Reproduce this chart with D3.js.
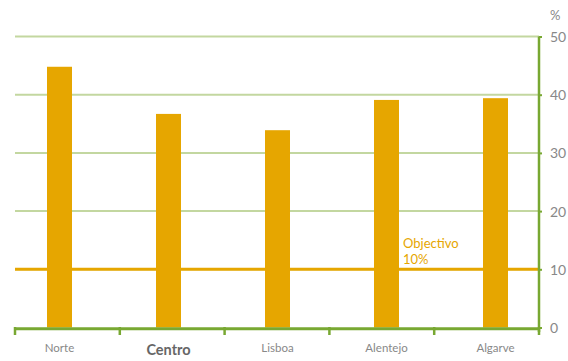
<!DOCTYPE html>
<html><head><meta charset="utf-8">
<script src="https://cdn.jsdelivr.net/npm/d3@7"></script>
<style>body{margin:0;background:#fff}svg{display:block}</style>
</head><body>
<svg id="c" width="568" height="361"></svg>
<script>
const categories = ["Norte", "Centro", "Lisboa", "Alentejo", "Algarve"];
const values = [44.8, 36.7, 33.9, 39.1, 39.4];
const yTicks = [0, 10, 20, 30, 40, 50];
const objective = 10;
const objectiveLabel = ["Objectivo", "10%"];
const unitLabel = "%";

const svg = d3.select("#c");
const mLeft = 15, mRight = 539, mTop = 36.5, mBottom = 327.5;
// scale for axis tick dividers
const xAxisScale = d3.scaleBand().domain(categories).range([mLeft, mRight]).padding(0);
// scale for bars and labels (slightly wider spacing, as in reference)
const x = d3.scaleBand().domain(categories).range([5, 550]).padding(0);
const y = d3.scaleLinear().domain([0, 50]).range([mBottom, mTop]);
const barW = 25;
const barCenter = d => x(d) + x.bandwidth() / 2;

// gridlines
svg.append("g").selectAll("line").data(yTicks.filter(t => t > 0)).join("line")
  .attr("x1", mLeft).attr("x2", mRight)
  .attr("y1", d => y(d)).attr("y2", d => y(d))
  .attr("stroke", "#c3d7a0").attr("stroke-width", 2);

// bars
svg.append("g").selectAll("rect").data(categories).join("rect")
  .attr("x", d => barCenter(d) - barW / 2)
  .attr("width", barW)
  .attr("y", (d, i) => y(values[i]))
  .attr("height", (d, i) => y(0) - y(values[i]))
  .attr("fill", "#e6a600");

// objective line
svg.append("line").attr("x1", mLeft).attr("x2", mRight)
  .attr("y1", y(objective)).attr("y2", y(objective))
  .attr("stroke", "#e6a600").attr("stroke-width", 3);
svg.append("text").attr("x", 403).attr("y", y(objective) - 21)
  .attr("fill", "#e6a600").attr("font-family", "Lato, sans-serif").attr("font-size", 13)
  .selectAll("tspan").data(objectiveLabel).join("tspan")
  .attr("x", 403).attr("dy", (d, i) => i ? 16 : 0).text(d => d);

// right axis
const yAxis = d3.axisRight(y).tickValues(yTicks).tickSize(3).tickPadding(8);
const ga = svg.append("g").attr("transform", `translate(${mRight},0)`).call(yAxis);
ga.select(".domain").remove();
ga.selectAll(".tick line").attr("stroke", "#78a832").attr("stroke-width", 2);
ga.selectAll(".tick text").attr("fill", "#888").attr("font-family", "Lato, sans-serif")
  .attr("font-size", 14).attr("dy", "0.35em");
svg.append("line").attr("x1", mRight).attr("x2", mRight).attr("y1", mTop).attr("y2", 332)
  .attr("stroke", "#78a832").attr("stroke-width", 2.5);
svg.append("text").attr("x", 550).attr("y", 20).attr("fill", "#888")
  .attr("font-family", "Lato, sans-serif").attr("font-size", 13).text(unitLabel);

// bottom axis
const xEdges = categories.map(c => xAxisScale(c)).concat([mRight]);
svg.append("line").attr("x1", mLeft).attr("x2", mRight).attr("y1", 328.8).attr("y2", 328.8)
  .attr("stroke", "#78a832").attr("stroke-width", 3);
svg.append("g").selectAll("line").data(xEdges).join("line")
  .attr("x1", d => d).attr("x2", d => d).attr("y1", 327).attr("y2", 335)
  .attr("stroke", "#78a832").attr("stroke-width", 2.5);
svg.append("g").selectAll("text").data(categories).join("text")
  .attr("x", d => barCenter(d)).attr("y", (d, i) => i === 1 ? 355 : 352)
  .attr("text-anchor", "middle").attr("fill", (d, i) => i === 1 ? "#666" : "#888")
  .attr("font-family", "Lato, sans-serif")
  .attr("font-size", (d, i) => i === 1 ? 14.5 : 11.5)
  .attr("font-weight", (d, i) => i === 1 ? "bold" : "normal")
  .text(d => d);
</script>
</body></html>
